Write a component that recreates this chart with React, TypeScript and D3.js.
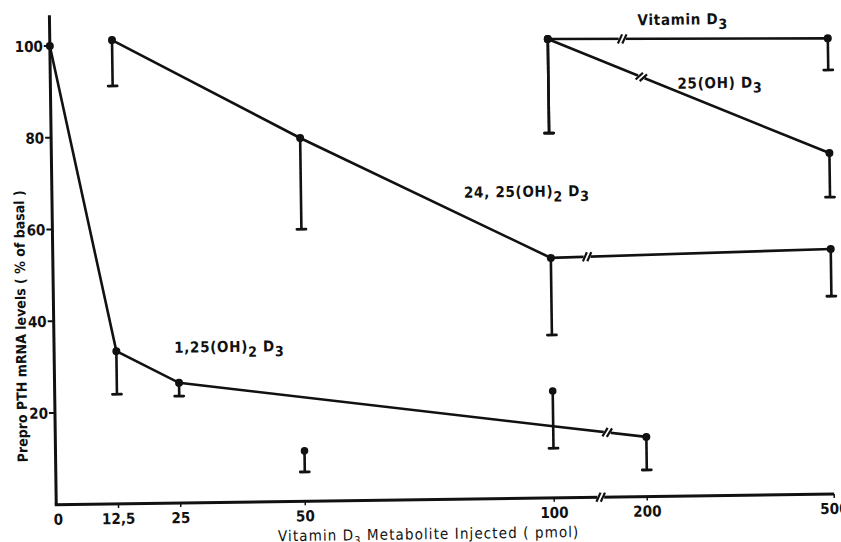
import { useEffect, useRef } from "react"
import * as d3 from "d3"

// x axis: dose injected (pmol), broken between 100 and 200
const xTickValues = [0, 12.5, 25, 50, 100, 200, 500]
const xTickLabels = ["0", "12,5", "25", "50", "100", "200", "500"]
const yTickValues = [20, 40, 60, 80, 100]

// Vitamin D3
const vitDoses = [100, 500]
const vitMeans = [100, 99.3]
const vitLows = [79.5, 92.4]

// 25(OH)D3
const ohDoses = [100, 500]
const ohMeans = [100, 74.3]
const ohLows = [79.5, 64.7]

// 24,25(OH)2D3
const d2425Doses = [12.5, 50, 100, 500]
const d2425Means = [101.1, 79.2, 52.3, 53.4]
const d2425Lows = [91.1, 59.3, 35.5, 43.1]

// 1,25(OH)2D3
const d125Doses = [0, 12.5, 25, 100, 200]
const d125Means = [100, 33.3, 26.2, 15.6, 13.0]
const d125Lows: (number | null)[] = [null, 23.9, 23.3, 10.8, 5.8]
const d125Highs: (number | null)[] = [null, null, null, 23.3, null]
const d125Dots = [true, true, true, false, true]

// lone 1,25(OH)2D3 point at 50 pmol, not on the line
const strayDoses = [50]
const strayMeans = [11.0]
const strayLows = [6.4]

interface Series {
  doses: number[]
  means: number[]
  lows: (number | null)[]
  highs: (number | null)[]
  dots: boolean[]
  breakSeg: number
  breakAt: number
}

const FONT = "'DejaVu Sans Condensed', 'DejaVu Sans', sans-serif"
const INK = "#111"

export default function App() {
  const svgRef = useRef<SVGSVGElement>(null)

  useEffect(() => {
    if (!svgRef.current) return
    const svg = d3.select(svgRef.current)
    svg.selectAll("*").remove()

    const x = d3.scaleLinear().domain([0, 100, 200, 500]).range([53, 551, 644, 831])
    const y = d3.scaleLinear().domain([0, 100]).range([499.4, 40.6])

    // the scan is slightly tilted
    const g = svg.append("g").attr("transform", "rotate(-0.8, 440, 270)")

    const series: Series[] = [
      { doses: vitDoses, means: vitMeans, lows: vitLows, highs: [null, null], dots: [true, true], breakSeg: 0, breakAt: 180 },
      { doses: ohDoses, means: ohMeans, lows: ohLows, highs: [null, null], dots: [true, true], breakSeg: 0, breakAt: 200 },
      { doses: d2425Doses, means: d2425Means, lows: d2425Lows, highs: [null, null, null, null], dots: [true, true, true, true], breakSeg: 2, breakAt: 139 },
      { doses: d125Doses, means: d125Means, lows: d125Lows, highs: d125Highs, dots: d125Dots, breakSeg: 3, breakAt: 158 }
    ]

    // "//" break mark across a segment
    const drawBreak = (x1: number, y1: number, x2: number, y2: number, px: number) => {
      const t = (px - x1) / (x2 - x1)
      const cx = x1 + t * (x2 - x1)
      const cy = y1 + t * (y2 - y1)
      const len = Math.hypot(x2 - x1, y2 - y1)
      const ux = (x2 - x1) / len
      const uy = (y2 - y1) / len
      g.append("line")
        .attr("x1", cx - 3.5 * ux).attr("y1", cy - 3.5 * uy)
        .attr("x2", cx + 3.5 * ux).attr("y2", cy + 3.5 * uy)
        .attr("stroke", "white").attr("stroke-width", 7)
      const a = Math.atan2(uy, ux) - (65 * Math.PI) / 180
      const sx = Math.cos(a)
      const sy = Math.sin(a)
      ;[-2.2, 2.2].forEach((off) => {
        const mx = cx + off * ux
        const my = cy + off * uy
        g.append("line")
          .attr("x1", mx - 5 * sx).attr("y1", my - 5 * sy)
          .attr("x2", mx + 5 * sx).attr("y2", my + 5 * sy)
          .attr("stroke", INK).attr("stroke-width", 2.2)
      })
    }

    // axes
    g.append("line")
      .attr("x1", x(0)).attr("y1", y(0))
      .attr("x2", x(0)).attr("y2", y(106.7))
      .attr("stroke", INK).attr("stroke-width", 3)
    g.append("line")
      .attr("x1", x(0) - 1.5).attr("y1", y(0))
      .attr("x2", x(500)).attr("y2", y(0))
      .attr("stroke", INK).attr("stroke-width", 3)
    drawBreak(x(0), y(0), x(500), y(0), x(150))

    g.selectAll(".ytick")
      .data(yTickValues)
      .enter()
      .append("line")
      .attr("x1", x(0) - 6).attr("x2", x(0))
      .attr("y1", (d) => y(d)).attr("y2", (d) => y(d))
      .attr("stroke", INK).attr("stroke-width", 2)

    g.selectAll(".ylabel")
      .data(yTickValues)
      .enter()
      .append("text")
      .attr("x", x(0) - 7)
      .attr("y", (d) => y(d) + 5.5)
      .attr("text-anchor", "end")
      .style("font-family", FONT).style("font-weight", "bold").style("font-size", "15px")
      .attr("fill", INK)
      .text((d) => d)

    g.selectAll(".xtick")
      .data(xTickValues.slice(1))
      .enter()
      .append("line")
      .attr("x1", (d) => x(d)).attr("x2", (d) => x(d))
      .attr("y1", y(0)).attr("y2", y(0) + 4)
      .attr("stroke", INK).attr("stroke-width", 1.5)

    g.selectAll(".xlabel")
      .data(xTickValues)
      .enter()
      .append("text")
      .attr("x", (d) => x(d) + (d === 0 ? 2 : 0))
      .attr("y", y(0) + 20)
      .attr("text-anchor", "middle")
      .style("font-family", FONT).style("font-weight", "bold").style("font-size", "15px")
      .attr("fill", INK)
      .text((_, i) => xTickLabels[i])

    // axis titles
    const xTitle = g.append("text")
      .attr("x", 425).attr("y", 539)
      .attr("text-anchor", "middle")
      .style("font-family", FONT).style("font-size", "15px").style("letter-spacing", "1.1px")
      .attr("fill", INK)
    xTitle.append("tspan").text("Vitamin D")
    xTitle.append("tspan").attr("dy", 4).style("font-size", "11px").text("3")
    xTitle.append("tspan").attr("dy", -4).text(" Metabolite  Injected ( pmol)")

    g.append("text")
      .attr("transform", `translate(25, ${y(39)}) rotate(-90)`)
      .attr("text-anchor", "middle")
      .style("font-family", FONT).style("font-weight", "bold").style("font-size", "14px")
      .attr("fill", INK)
      .text("Prepro PTH mRNA levels ( % of basal )")

    // series lines, error bars and points
    series.forEach((s) => {
      const pts = s.doses.map((d, i) => [x(d), y(s.means[i])] as [number, number])
      g.append("path")
        .attr("d", d3.line()(pts))
        .attr("fill", "none").attr("stroke", INK).attr("stroke-width", 2.6)

      s.doses.forEach((d, i) => {
        const lo = s.lows[i]
        const hi = s.highs[i]
        const top = hi ?? s.means[i]
        const bottom = lo ?? s.means[i]
        if (lo !== null || hi !== null) {
          g.append("line")
            .attr("x1", x(d)).attr("x2", x(d))
            .attr("y1", y(top)).attr("y2", y(bottom))
            .attr("stroke", INK).attr("stroke-width", 2.6)
        }
        if (lo !== null) {
          g.append("line")
            .attr("x1", x(d) - 4.5).attr("x2", x(d) + 4.5)
            .attr("y1", y(lo)).attr("y2", y(lo))
            .attr("stroke", INK).attr("stroke-width", 2.8).attr("stroke-linecap", "round")
        }
        if (hi !== null) {
          g.append("circle").attr("cx", x(d)).attr("cy", y(hi)).attr("r", 3.8).attr("fill", INK)
        }
        if (s.dots[i]) {
          g.append("circle").attr("cx", x(d)).attr("cy", y(s.means[i])).attr("r", 4).attr("fill", INK)
        }
      })

      const a = pts[s.breakSeg]
      const b = pts[s.breakSeg + 1]
      drawBreak(a[0], a[1], b[0], b[1], x(s.breakAt))
    })

    // the lone point at 50 pmol
    strayDoses.forEach((d, i) => {
      g.append("line")
        .attr("x1", x(d)).attr("x2", x(d))
        .attr("y1", y(strayMeans[i])).attr("y2", y(strayLows[i]))
        .attr("stroke", INK).attr("stroke-width", 2.6)
      g.append("line")
        .attr("x1", x(d) - 4.5).attr("x2", x(d) + 4.5)
        .attr("y1", y(strayLows[i])).attr("y2", y(strayLows[i]))
        .attr("stroke", INK).attr("stroke-width", 2.8).attr("stroke-linecap", "round")
      g.append("circle").attr("cx", x(d)).attr("cy", y(strayMeans[i])).attr("r", 3.8).attr("fill", INK)
    })

    // series labels
    const label = (lx: number, ly: number, parts: [string, boolean][]) => {
      const t = g.append("text")
        .attr("x", lx).attr("y", ly)
        .style("font-family", FONT).style("font-weight", "bold").style("font-size", "15px")
        .style("letter-spacing", "0.7px")
        .attr("fill", INK)
      let sub = false
      parts.forEach(([txt, isSub]) => {
        const dy = isSub && !sub ? 5 : !isSub && sub ? -5 : 0
        t.append("tspan").attr("dy", dy).style("font-size", isSub ? "14px" : "15px").text(txt)
        sub = isSub
      })
    }
    label(641, 28, [["Vitamin D", false], ["3", true]])
    label(680, 92, [["25(OH) D", false], ["3", true]])
    label(465, 198, [["24, 25(OH)", false], ["2", true], [" D", false], ["3", true]])
    label(173, 349, [["1,25(OH)", false], ["2", true], [" D", false], ["3", true]])
  }, [])

  return (
    <svg
      ref={svgRef}
      width={841}
      height={542}
      style={{ position: "absolute", left: 0, top: 0, background: "white", display: "block" }}
    />
  )
}
